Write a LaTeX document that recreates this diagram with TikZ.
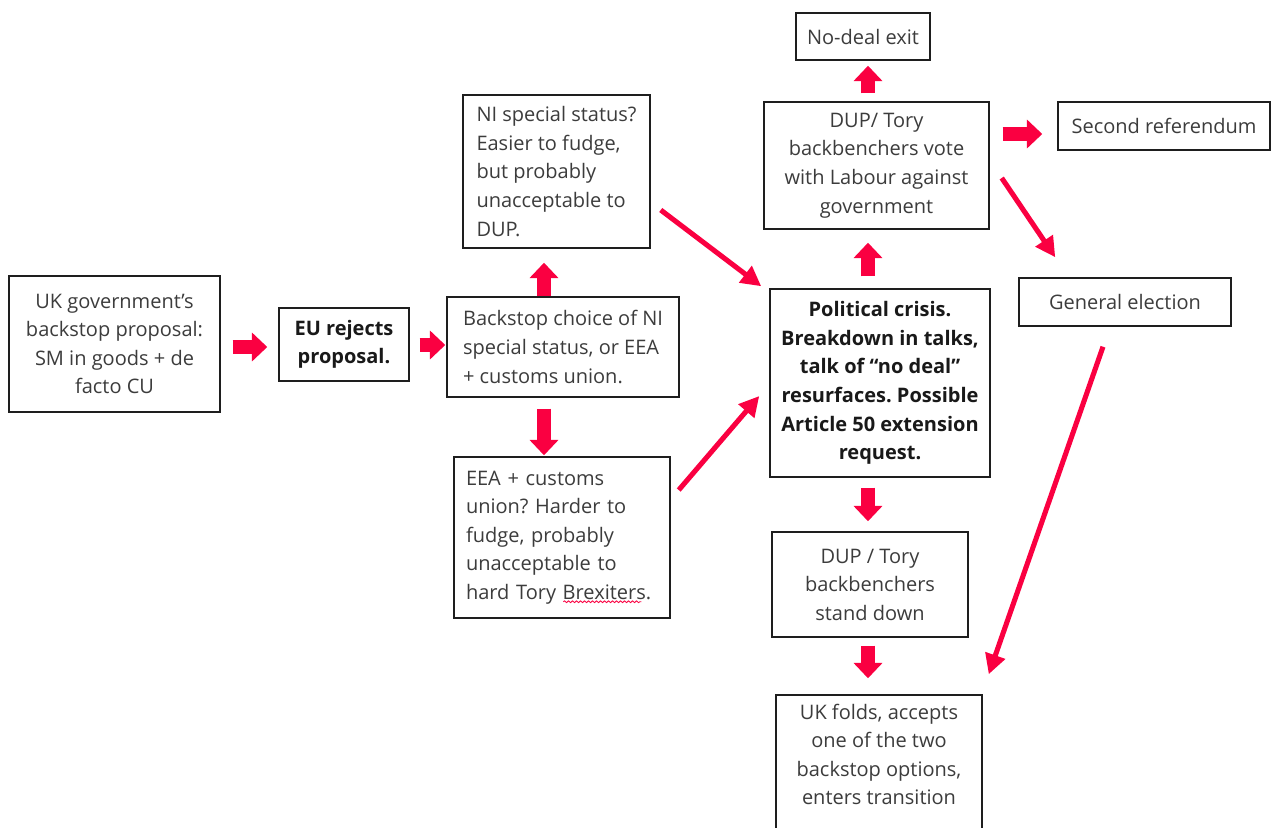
\documentclass[tikz,border=0pt]{standalone}
\usepackage{fontspec}
\setmainfont{Open Sans}
\frenchspacing
\usetikzlibrary{arrows.meta,calc,decorations.pathmorphing}
\definecolor{brx}{RGB}{250,0,65}
\definecolor{txt}{RGB}{60,60,60}
\definecolor{bord}{RGB}{30,30,30}
\tikzset{
 box/.style={draw=bord, line width=1.1pt, text=txt, inner sep=0pt, font=\fontsize{15}{21.4}\selectfont, align=center},
 lbox/.style={box, align=left},
 bbox/.style={box, text=black!90, font=\fontsize{15}{21.4}\selectfont\bfseries},
 blk/.style={draw=brx, line width=11pt, -{Triangle[length=11.5pt,width=21pt]}},
 thinarr/.style={draw=brx, line width=3.8pt, -{Triangle[length=15pt,width=15pt]}},
}
\begin{document}
\begin{tikzpicture}[x=0.75pt,y=-0.75pt]
\fill[white] (0,0) rectangle (1271,828);
\clip (0,0) rectangle (1271,828);
% nodes
\node[box, minimum width=158.25pt, minimum height=102pt] (uk) at (114.5,344)
  {UK government’s\\backstop proposal:\\SM in goods + de\\facto CU};
\node[bbox, minimum width=97.5pt, minimum height=54.75pt] (eu) at (344,344.5)
  {EU rejects\\proposal.};
\node[lbox, minimum width=174pt, minimum height=75pt] (bs) at (563,347)
  {Backstop choice of NI\\special status, or EEA\\+ customs union.};
\node[lbox, minimum width=140.25pt, minimum height=114.75pt] (ni) at (556.5,171.5)
  {NI special status?\\Easier to fudge,\\but probably\\unacceptable to\\DUP.};
\node[lbox, text width=144pt, inner xsep=9pt, minimum height=120.75pt] (eea) at (562,537.5)
  {EEA + customs\\union? Harder to\\fudge, probably\\unacceptable to\\hard Tory Brexiters.};
\node[bbox, minimum width=165pt, minimum height=141pt] (pc) at (880,383)
  {Political crisis.\\Breakdown in talks,\\talk of “no deal”\\resurfaces. Possible\\Article 50 extension\\request.};
\node[box, minimum width=168.75pt, minimum height=95.25pt] (vote) at (876.5,165.5)
  {DUP/ Tory\\backbenchers vote\\with Labour against\\government};
\node[box, minimum width=100.5pt, minimum height=35.25pt] (nd) at (863,36.5)
  {No-deal exit};
\node[box, minimum width=159pt, minimum height=36pt] (sr) at (1164,126)
  {Second referendum};
\node[box, minimum width=159pt, minimum height=36pt] (ge) at (1125,302)
  {General election};
\node[box, minimum width=147pt, minimum height=78.75pt] (sd) at (870,584.5)
  {DUP / Tory\\backbenchers\\stand down};
\node[box, minimum width=154.5pt, minimum height=117pt] (fold) at (879,773)
  {UK folds, accepts\\one of the two\\backstop options,\\enters transition\\\strut};
% spell-check squiggle
\draw[brx, line width=0.6pt, decorate, decoration={snake, segment length=3pt, amplitude=0.7pt}]
  ($(eea.south west)+(110,-17)$) -- ($(eea.south west)+(188,-17)$);
% block arrows
\draw[blk] ($(uk.east)+(12,3)$) -- ($(eu.west)+(-11,2.5)$);
\draw[blk] ($(eu.east)+(10,0.5)$) -- ($(bs.west)+(-1,-2)$);
\draw[blk] ($(bs.north)+(-19,0)$) -- ($(ni.south)+(-12.5,14)$);
\draw[blk] ($(bs.south)+(-19,11)$) -- ($(eea.north)+(-18,-1)$);
\draw[blk] ($(pc.north)+(-12,-12)$) -- ($(vote.south)+(-8.5,13)$);
\draw[blk] ($(vote.north)+(-8.5,-8)$) -- ($(nd.south)+(5,5)$);
\draw[blk] ($(vote.east)+(13,-31.5)$) -- ($(sr.west)+(-15,8)$);
\draw[blk] ($(pc.south)+(-12,10)$) -- ($(sd.north)+(-2,-10)$);
\draw[blk] ($(sd.south)+(-2,8)$) -- ($(fold.north)+(-11,-16)$);
% thin arrows
\draw[thinarr] ($(ni.east)+(10,38.5)$) -- ($(pc.north west)+(-8,-2)$);
\draw[thinarr] ($(eea.east)+(8,-47.5)$) -- ($(pc.west)+(-10,13)$);
\draw[thinarr] ($(vote.east)+(12,12.5)$) -- ($(ge.north west)+(37,-20)$);
\draw[thinarr] ($(ge.south)+(-22,20)$) -- ($(fold.north east)+(6,-20)$);
\end{tikzpicture}
\end{document}
